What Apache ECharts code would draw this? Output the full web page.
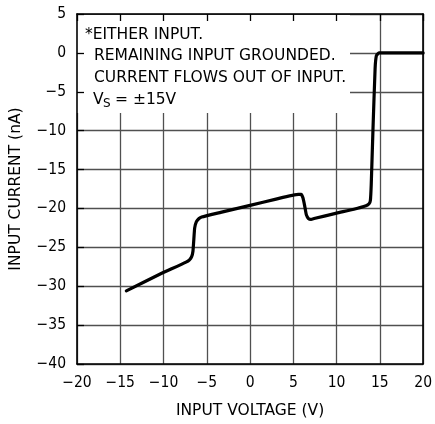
<!DOCTYPE html>
<html><head><meta charset="utf-8">
<script src="https://cdn.jsdelivr.net/npm/echarts@6/dist/echarts.min.js"></script>
<style>html,body{margin:0;padding:0;background:#fff}#c{width:435px;height:424px}</style>
</head><body><div id="c"></div>
<script>
const voltage = [-14.3, -10.5, -7.4, -7.0, -6.75, -6.6, -6.5, -6.4, -6.2, -5.9, -5.6, -3.4, 0, 3, 5.6, 5.9, 6.1, 6.3, 6.5, 6.75, 7.05, 7.4, 10, 12, 13.4, 13.75, 13.9, 14.0, 14.2, 14.45, 14.6, 14.9, 20];
const current = [-30.6, -28.5, -26.9, -26.6, -26.2, -25.5, -24, -22.5, -21.7, -21.3, -21.1, -20.5, -19.6, -18.8, -18.2, -18.2, -18.6, -19.6, -20.8, -21.3, -21.4, -21.3, -20.6, -20.1, -19.65, -19.4, -19.0, -17, -10, -2, -0.35, 0, 0];
const xTicks = {min: -20, max: 20, step: 5};
const yTicks = {min: -40, max: 5, step: 5};
const noteLines = ['*EITHER INPUT.', 'REMAINING INPUT GROUNDED.', 'CURRENT FLOWS OUT OF INPUT.'];
const supplyNote = ['V', 'S', '= \u00B115V'];
const xTitle = 'INPUT VOLTAGE (V)';
const yTitle = 'INPUT CURRENT (nA)';

const FONT = '"DejaVu Sans Condensed", sans-serif';
const FONT2 = '"DejaVu Sans", sans-serif';
const minus = v => String(v).replace('-', '\u2212');
const chart = echarts.init(document.getElementById('c'));
const black = '#000';
const grid = '#505050';
const baseX = {type: 'value', min: xTicks.min, max: xTicks.max, interval: xTicks.step};
const baseY = {type: 'value', min: yTicks.min, max: yTicks.max, interval: yTicks.step};
const line = {show: true, onZero: false, lineStyle: {color: black, width: 1.6}};
const tick = {show: true, inside: true, length: 7, lineStyle: {color: black, width: 1.3}};
chart.setOption({
  animation: false,
  grid: {left: 74, right: 9, top: 14, bottom: 58},
  xAxis: [
    Object.assign({}, baseX, {position: 'bottom', z: 0,
      axisLine: line,
      axisTick: {show: false},
      axisLabel: {fontFamily: FONT, fontSize: 15.5, color: black, margin: 11, formatter: minus},
      splitLine: {show: true, lineStyle: {color: grid, width: 1.3}},
      name: xTitle, nameLocation: 'middle', nameGap: 39,
      nameTextStyle: {fontFamily: FONT2, fontSize: 15.5, color: black}}),
    Object.assign({}, baseX, {position: 'top', z: 10,
      axisLine: line, axisTick: tick,
      axisLabel: {show: false}, splitLine: {show: false}})
  ],
  yAxis: [
    Object.assign({}, baseY, {position: 'left', z: 0,
      axisLine: {show: false, onZero: false}, axisTick: {show: false},
      axisLabel: {fontFamily: FONT, fontSize: 15.5, color: black, margin: 11, formatter: minus},
      splitLine: {show: true, lineStyle: {color: grid, width: 1.3}},
      name: yTitle, nameLocation: 'middle', nameGap: 53, nameRotate: 90,
      nameTextStyle: {fontFamily: FONT2, fontSize: 15.5, color: black}}),
    Object.assign({}, baseY, {position: 'left', z: 10,
      axisLine: line, axisTick: tick,
      axisLabel: {show: false}, splitLine: {show: false}}),
    Object.assign({}, baseY, {position: 'right', z: 10,
      axisLine: line,
      axisTick: {show: false}, axisLabel: {show: false}, splitLine: {show: false}})
  ],
  graphic: [
    {type: 'rect', z: 5, shape: {x: 75, y: 15, width: 275, height: 98}, style: {fill: '#fff'}},
    {type: 'text', z: 11, left: 85, top: 27, style: {text: noteLines[0], font: '15.5px ' + FONT2, fill: black}},
    {type: 'text', z: 11, left: 94, top: 48, style: {text: noteLines[1], font: '15.5px ' + FONT2, fill: black}},
    {type: 'text', z: 11, left: 94, top: 70, style: {text: noteLines[2], font: '15.5px ' + FONT2, fill: black}},
    {type: 'text', z: 11, left: 93, top: 92, style: {text: supplyNote[0], font: '15.5px ' + FONT2, fill: black}},
    {type: 'text', z: 11, left: 103, top: 98, style: {text: supplyNote[1], font: '12px ' + FONT2, fill: black}},
    {type: 'text', z: 11, left: 115, top: 92, style: {text: supplyNote[2], font: '15.5px ' + FONT2, fill: black}}
  ],
  series: [{
    type: 'line', xAxisIndex: 0, yAxisIndex: 0, z: 20,
    data: voltage.map((v, i) => [v, current[i]]),
    showSymbol: false, smooth: 0.15,
    lineStyle: {color: black, width: 3.2, join: 'round', cap: 'round'}
  }]
});
</script></body></html>
